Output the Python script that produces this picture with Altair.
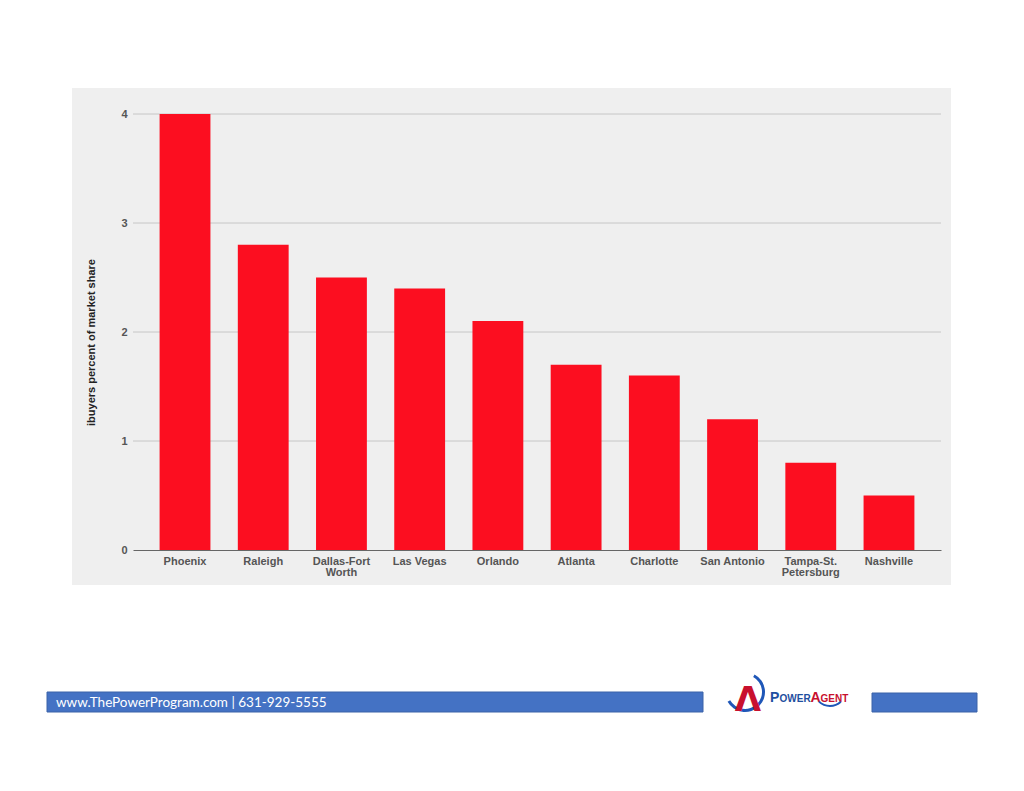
import altair as alt
import pandas as pd

cities = ["Phoenix", "Raleigh", "Dallas-Fort Worth", "Las Vegas", "Orlando",
          "Atlanta", "Charlotte", "San Antonio", "Tampa-St. Petersburg", "Nashville"]
shares = [4.0, 2.8, 2.5, 2.4, 2.1, 1.7, 1.6, 1.2, 0.8, 0.5]
y_ticks = [0, 1, 2, 3, 4]
grid_values = [1, 2, 3, 4]
y_title = "ibuyers percent of market share"
footer_text = "www.ThePowerProgram.com | 631-929-5555"

df = pd.DataFrame({"city": cities, "share": shares})
one = alt.Data(values=[{}])

FONT = "Liberation Sans"
LABEL_COLOR = "#555555"
yscale = alt.Scale(domain=[0, 4], nice=False, zero=True)

label_expr = ("datum.label == 'Dallas-Fort Worth' ? ['Dallas-Fort', 'Worth'] : "
              "datum.label == 'Tampa-St. Petersburg' ? ['Tampa-St.', 'Petersburg'] : datum.label")

y_axis = alt.Axis(values=y_ticks, grid=False, domain=False, ticks=False,
                  labelPadding=6, labelFont=FONT, labelFontSize=11,
                  labelFontWeight="bold", labelColor=LABEL_COLOR,
                  title=y_title, titleFont=FONT, titleFontSize=11,
                  titleFontWeight="bold", titleColor="#222222",
                  titleX=-42, titleY=228, titleAngle=-90,
                  titleAlign="center", titleBaseline="middle", zindex=1)

panel = alt.Chart(one).mark_rect(color="#efefef").encode(
    x=alt.value(-61), x2=alt.value(818), y=alt.value(-26), y2=alt.value(471))

grid = alt.Chart(pd.DataFrame({"v": grid_values})).mark_rule(
    color="#c6c6c6", strokeWidth=1).encode(
    y=alt.Y("v:Q", scale=yscale, axis=y_axis, title=y_title),
    x=alt.value(0), x2=alt.value(808))

bars = alt.Chart(df).mark_bar(color="#fc0e20").encode(
    x=alt.X("city:N", sort=cities,
            scale=alt.Scale(paddingInner=0.35, paddingOuter=0.34),
            axis=alt.Axis(title=None, labelAngle=0, labelExpr=label_expr,
                          labelFont=FONT, labelFontSize=11, labelFontWeight="bold",
                          labelColor=LABEL_COLOR, labelPadding=5, ticks=False,
                          domainColor="#666666", domainWidth=1,
                          labelBaseline="top", labelLineHeight=11, zindex=1)),
    y=alt.Y("share:Q", scale=yscale, axis=y_axis, title=y_title))

footer_bar1 = alt.Chart(one).mark_rect(color="#4472c4", stroke="#3b62a8", strokeWidth=1).encode(
    x=alt.value(-86), x2=alt.value(570), y=alt.value(578), y2=alt.value(598))
footer_bar2 = alt.Chart(one).mark_rect(color="#4472c4", stroke="#3b62a8", strokeWidth=1).encode(
    x=alt.value(739), x2=alt.value(844), y=alt.value(579), y2=alt.value(598))
footer_txt = alt.Chart(one).mark_text(
    text=footer_text, font="Lato", fontSize=13.5, color="white",
    align="left", baseline="alphabetic").encode(x=alt.value(-77), y=alt.value(593))

logo_a = alt.Chart(one).mark_text(
    text="Λ", font="DejaVu Sans", fontSize=34, fontWeight="bold", color="#c8102e",
    align="center", baseline="alphabetic").encode(x=alt.value(615), y=alt.value(597))
logo_swoosh = alt.Chart(one).mark_arc(
    radius=20, radius2=17, theta=0.5, theta2=4.2, color="#1f57b8").encode(
    x=alt.value(612), y=alt.value(578))


def logo_piece(txt, size, color, xpos):
    return alt.Chart(one).mark_text(
        text=txt, font=FONT, fontSize=size, fontWeight="bold", color=color,
        align="left", baseline="alphabetic").encode(x=alt.value(xpos), y=alt.value(588))


logo_p = logo_piece("P", 14, "#1f4fa0", 637)
logo_ower = logo_piece("OWER", 10, "#1f4fa0", 646.5)
logo_a2 = logo_piece("A", 14, "#c8102e", 677.5)
logo_gent = logo_piece("GENT", 10, "#c8102e", 687.5)
logo_smile = alt.Chart(one).mark_arc(
    radius=17, radius2=15, theta=2.4, theta2=3.9, color="#1f57b8").encode(
    x=alt.value(697), y=alt.value(576))

chart = alt.layer(
    panel, grid, bars, footer_bar1, footer_bar2, footer_txt,
    logo_swoosh, logo_a, logo_p, logo_ower, logo_a2, logo_gent, logo_smile
).properties(
    width=808, height=436,
    padding={"left": 125, "top": 106, "right": 67, "bottom": 225},
    autosize=alt.AutoSizeParams(type="none"),
    background="white"
).configure_view(stroke=None)

chart.save("out.html", embed_options={"renderer": "svg", "actions": False})
